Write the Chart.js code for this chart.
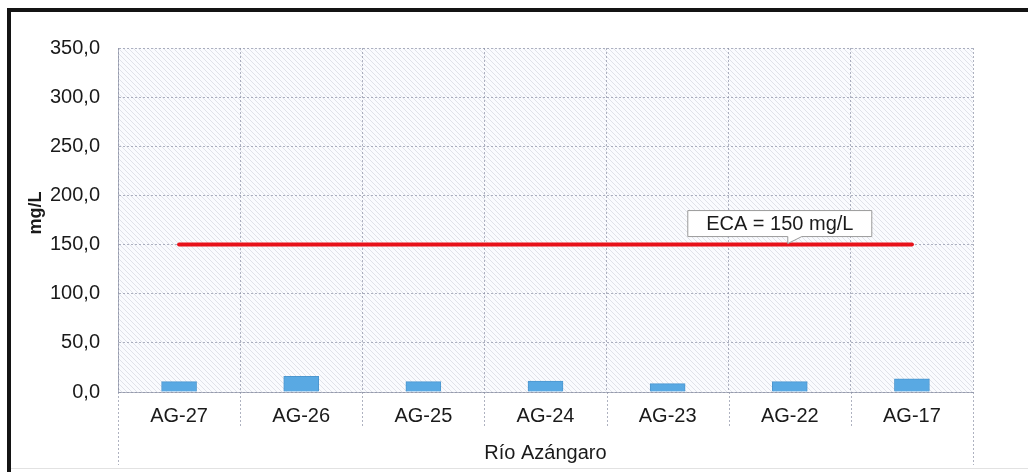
<!DOCTYPE html>
<html>
<head>
<meta charset="utf-8">
<script src="https://cdn.jsdelivr.net/npm/chart.js@4/dist/chart.umd.min.js"></script>
<style>
  html, body { margin: 0; padding: 0; background: #ffffff; }
  #wrap { position: relative; width: 1028px; height: 472px; overflow: hidden; }
  #frame { position: absolute; left: 7px; top: 8px; width: 1030px; height: 470px;
           border-left: 4px solid #141414; border-top: 4px solid #141414; box-sizing: border-box; }
  #base { position: absolute; left: 11px; top: 468px; width: 1017px; height: 1px; background: #e2e2e2; }
  canvas { position: absolute; left: 0; top: 0; }
</style>
</head>
<body>
<div id="wrap">
  <div id="frame"></div>
  <div id="base"></div>
  <canvas id="c" width="1028" height="472"></canvas>
</div>
<script>
// Sampling stations along the river
const stations = ['AG-27', 'AG-26', 'AG-25', 'AG-24', 'AG-23', 'AG-22', 'AG-17'];
// Measured concentration (mg/L)
const measured = [10.5, 16.0, 10.5, 11.0, 8.5, 10.5, 13.5];
// Environmental quality standard (ECA) at every station
const ecaLimit = [150, 150, 150, 150, 150, 150, 150];
// Y axis tick labels (decimal comma)
const yTickLabels = ['0,0', '50,0', '100,0', '150,0', '200,0', '250,0', '300,0', '350,0'];
const ecaText = 'ECA = 150 mg/L';
const xTitle = 'Río Azángaro';
const yTitle = 'mg/L';

const FONT = 'Arial, "Liberation Sans", sans-serif';
const GRID = 'rgba(140,146,165,0.7)';
const DASH = [2, 2];

// Hatched plot background
function makeHatch(ctx) {
  const c = document.createElement('canvas');
  c.width = 5; c.height = 5;
  const g = c.getContext('2d');
  g.fillStyle = '#fafbfe';
  g.fillRect(0, 0, 5, 5);
  g.strokeStyle = 'rgba(170,175,190,0.32)';
  g.lineWidth = 1;
  g.beginPath();
  g.moveTo(-1, -1); g.lineTo(6, 6);
  g.moveTo(-1, 4); g.lineTo(1, 6);
  g.moveTo(4, -1); g.lineTo(6, 1);
  g.stroke();
  return ctx.createPattern(c, 'repeat');
}

const backgroundPlugin = {
  id: 'hatchBg',
  beforeDraw(chart) {
    const { ctx, chartArea: a } = chart;
    ctx.save();
    ctx.fillStyle = makeHatch(ctx);
    ctx.fillRect(a.left, a.top, a.right - a.left, a.bottom - a.top);
    ctx.restore();
  }
};

// Category separators continue down through the label band; y title drawn here too
const separatorPlugin = {
  id: 'separators',
  afterDraw(chart) {
    const { ctx, chartArea: a } = chart;
    const n = stations.length;
    const step = (a.right - a.left) / n;
    ctx.save();
    ctx.strokeStyle = GRID;
    ctx.lineWidth = 1;
    ctx.setLineDash(DASH);
    for (let i = 0; i <= n; i++) {
      const px = Math.round(a.left + i * step) + 0.5;
      const end = (i === 0 || i === n) ? a.bottom + 73 : a.bottom + 36;
      ctx.beginPath();
      ctx.moveTo(px, a.bottom);
      ctx.lineTo(px, end);
      ctx.stroke();
    }
    ctx.setLineDash([]);
    // vertical axis title, set a little above the plot's mid-height
    ctx.translate(36, (a.top + a.bottom) / 2 - 7);
    ctx.rotate(-Math.PI / 2);
    ctx.fillStyle = '#1a1a1a';
    ctx.font = 'bold 18px ' + FONT;
    ctx.textAlign = 'center';
    ctx.textBaseline = 'middle';
    ctx.fillText(yTitle, 0, 0);
    ctx.restore();
  }
};

// Callout box for the ECA limit line
const calloutPlugin = {
  id: 'callout',
  afterDatasetsDraw(chart) {
    const { ctx } = chart;
    const ax = chart.scales.x.getPixelForValue(5);
    const ay = chart.scales.y.getPixelForValue(ecaLimit[5]);
    const left = ax - 102, right = ax + 82, top = ay - 34, bottom = ay - 8;
    ctx.save();
    ctx.fillStyle = '#ffffff';
    ctx.strokeStyle = '#9a9a9a';
    ctx.lineWidth = 1;
    ctx.beginPath();
    ctx.moveTo(left, top);
    ctx.lineTo(right, top);
    ctx.lineTo(right, bottom);
    ctx.lineTo(ax + 12, bottom);
    ctx.lineTo(ax - 2, ay - 1);
    ctx.lineTo(ax - 2, bottom);
    ctx.lineTo(left, bottom);
    ctx.closePath();
    ctx.fill();
    ctx.stroke();
    ctx.fillStyle = '#1a1a1a';
    ctx.font = '20px ' + FONT;
    ctx.textAlign = 'center';
    ctx.textBaseline = 'middle';
    ctx.fillText(ecaText, (left + right) / 2, (top + bottom) / 2 + 1);
    ctx.restore();
  }
};

new Chart(document.getElementById('c'), {
  type: 'bar',
  data: {
    labels: stations,
    datasets: [
      {
        type: 'line',
        data: ecaLimit,
        borderColor: '#e8131b',
        borderWidth: 4,
        borderCapStyle: 'round',
        pointRadius: 0,
        fill: false,
        order: 0
      },
      {
        type: 'bar',
        data: measured,
        backgroundColor: '#59a9e3',
        borderColor: '#4d97cf',
        borderWidth: 1,
        barThickness: 35,
        order: 1
      }
    ]
  },
  options: {
    responsive: false,
    animation: false,
    events: [],
    layout: { padding: { left: 0, top: 48, right: 55, bottom: 0 } },
    plugins: { legend: { display: false }, tooltip: { enabled: false } },
    scales: {
      x: {
        grid: { color: GRID, lineWidth: 1, drawTicks: false, offset: true },
        border: { color: GRID, dash: DASH },
        ticks: { color: '#1a1a1a', font: { family: FONT, size: 20 }, padding: 12, maxRotation: 0 },
        title: { display: true, text: xTitle, color: '#1a1a1a',
                 font: { family: FONT, size: 20 }, padding: { top: 0, bottom: 7 } },
        afterFit(scale) { scale.height = 80; }
      },
      y: {
        min: 0, max: 350,
        grid: { color: GRID, lineWidth: 1, drawTicks: false },
        border: { color: GRID, dash: DASH },
        ticks: {
          stepSize: 50,
          color: '#1a1a1a',
          font: { family: FONT, size: 20 },
          padding: 18,
          callback: (v, i) => yTickLabels[i]
        },
        afterFit(scale) { scale.width = 118; }
      }
    }
  },
  plugins: [backgroundPlugin, separatorPlugin, calloutPlugin]
});
</script>
</body>
</html>
